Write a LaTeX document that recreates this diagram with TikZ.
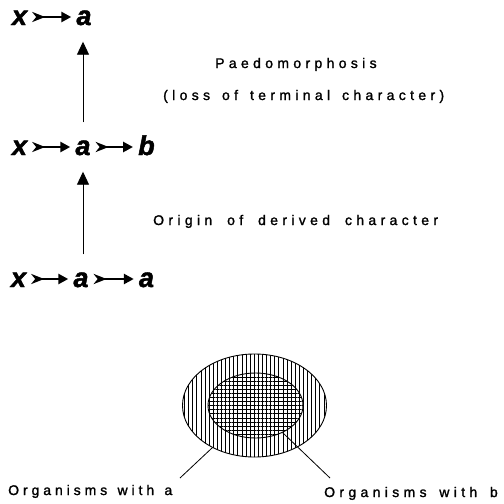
\documentclass[tikz,border=0pt]{standalone}
\usepackage{fontspec}
\setmainfont{Liberation Sans}
\usetikzlibrary{arrows.meta,patterns.meta,shapes.geometric}

\newfontfamily\symfont[FakeBold=1.8]{Liberation Sans Bold Italic}
\newfontfamily\capfont[LetterSpace=31,FakeBold=1.5]{Liberation Sans}
% widen the gaps between words by #1
\newcommand\widegaps[1]{\spaceskip=\dimexpr\fontdimen2\font+#1\relax}

\tikzset{
  sym/.style={font=\fontsize{27}{27}\symfont,
    inner xsep=5pt, inner ysep=0pt, text height=16pt, text depth=0pt, anchor=base},
  caption/.style={font=\fontsize{14}{14}\capfont, anchor=base west, inner sep=0pt},
  fletch/.style={line width=2.8pt,
    {Stealth[reversed,length=13pt,width=10pt,inset=4pt]}-{Triangle[length=10pt,width=10pt]}},
  rise/.style={line width=0.9pt, -{Triangle[length=13pt,width=12pt]},
    shorten <=16.5pt, shorten >=16.5pt},
  leader/.style={line width=0.8pt},
}

\begin{document}
\begin{tikzpicture}[x=1pt,y=-1pt]
\useasboundingbox (0,0) rectangle (504,504);

% character sequences
\node[sym] (x1) at (19.5,25) {x};
\node[sym] (a1) at (84,25) {a};

\node[sym] (x2) at (19.5,155) {x};
\node[sym] (a2) at (83,155) {a};
\node[sym] (b2) at (146.5,155) {b};

\node[sym] (x3) at (18.5,287) {x};
\node[sym] (a3) at (81,287) {a};
\node[sym] (a3b) at (146.5,287) {a};

\draw[fletch] (x1) -- (a1);
\draw[fletch] (x2) -- (a2);
\draw[fletch] (a2) -- (b2);
\draw[fletch] (x3) -- (a3);
\draw[fletch] (a3) -- (a3b);

% transitions between the sequences
\draw[rise] (a2.north) -- (a2.north |- a1.south);
\draw[rise] (a3.north -| a2.north) -- (a2.south);

% captions
\node[caption] (paed) at (215,68) {Paedomorphosis};
\node[caption] (loss) at (163,100) {\widegaps{3.7pt}(loss of terminal character)};
\node[caption] (orig) at (153,225) {\widegaps{6.7pt}Origin of derived character};

% nested sets of organisms
\node[ellipse, draw, line width=0.9pt, inner sep=0pt,
  minimum width=144pt, minimum height=103pt,
  pattern={Lines[angle=90,distance=4.1pt,line width=0.8pt]}] (outer) at (254.5,405.5) {};
\node[ellipse, draw, line width=0.9pt, inner sep=0pt,
  minimum width=95pt, minimum height=65pt,
  pattern={Lines[angle=0,distance=4.1pt,line width=0.7pt]}] (inner) at (255.5,405.5) {};

\node[caption] (laba) at (8,495) {\addfontfeatures{LetterSpace=28}\widegaps{2.5pt}Organisms with a};
\node[caption] (labb) at (324,497) {\widegaps{4.5pt}Organisms with b};

\coordinate (enda) at (180,478);
\coordinate (endb) at (330,478);
\draw[leader] (outer.225) -- (enda);
\draw[leader] (inner.-45) -- (endb);
\end{tikzpicture}
\end{document}
